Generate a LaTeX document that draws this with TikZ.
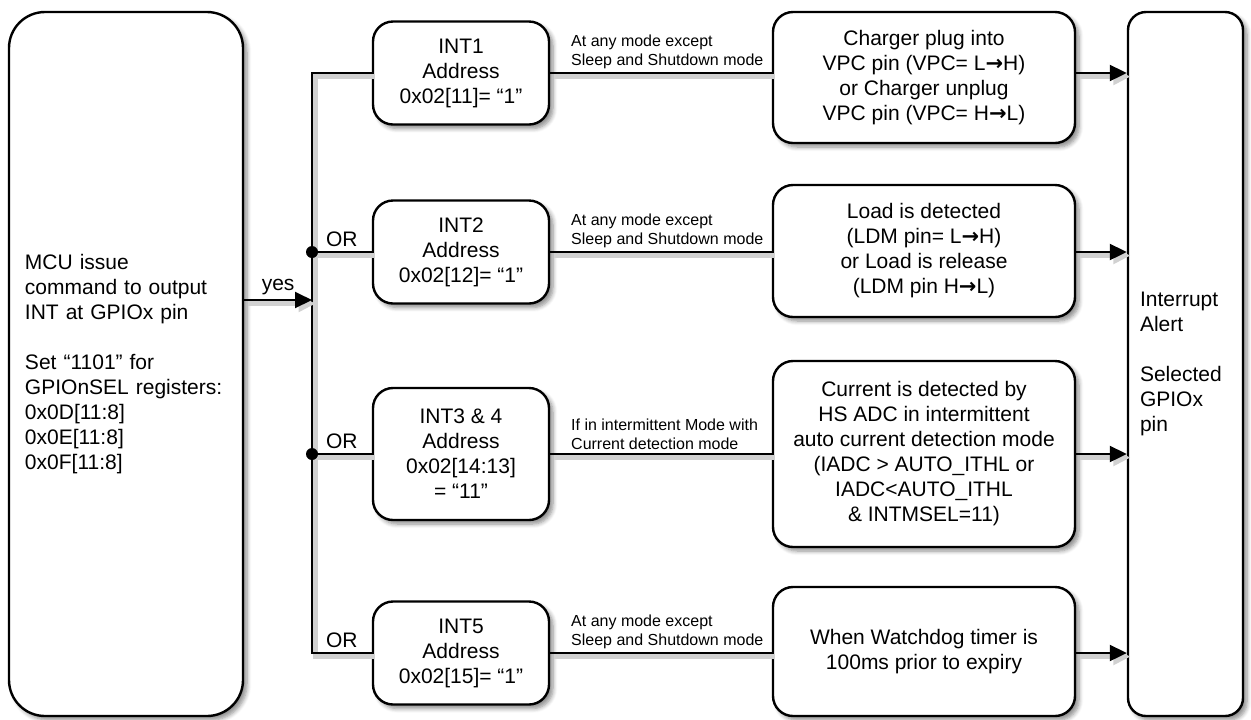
\documentclass[tikz,border=0pt]{standalone}
\usepackage{fontspec}
\setmainfont{Liberation Sans}
\newfontfamily\arrowfont{DejaVu Sans}
\usetikzlibrary{arrows.meta, shadows.blur}

\newcommand{\rarr}{{\arrowfont\bfseries\char"2192}}

\tikzset{
  box/.style={draw, line width=1.2pt, fill=white, rounded corners=10pt,
    align=center, inner sep=0pt, font=\fontsize{10.5}{12.5}\selectfont,
    blur shadow={shadow xshift=2pt, shadow yshift=-2pt, shadow blur steps=6, shadow opacity=45}},
  wire/.style={line width=1pt,
    preaction={draw, black!18, line width=2.5pt, transform canvas={shift={(1.8pt,-1.8pt)}}}},
  lbl/.style={font=\fontsize{8}{9.5}\selectfont, align=left, inner xsep=10pt, inner ysep=1.5pt},
  txt/.style={font=\fontsize{10.5}{12.5}\selectfont, inner sep=2pt},
}

\begin{document}
\begin{tikzpicture}[x=0.5pt, y=-0.5pt, >={Triangle[length=8.5pt, width=8pt]}]
    \useasboundingbox (0,0) rectangle (1251,719);

    % Nodes
    \node[box, rounded corners=18pt, minimum width=117pt, minimum height=352pt,
      text width=101pt, align=left, inner xsep=8pt] (MCU) at (126,364)
      {MCU issue\\command to output\\INT at GPIOx pin\\[12.5pt]Set “1101” for\\GPIOnSEL registers:\\0x0D[11:8]\\0x0E[11:8]\\0x0F[11:8]};

    \node[box, minimum width=88pt, minimum height=51.5pt] (INT1) at (461,73) {INT1\\Address\\0x02[11]= “1”};
    \node[box, minimum width=88pt, minimum height=51.5pt] (INT2) at (461,252) {INT2\\Address\\0x02[12]= “1”};
    \node[box, minimum width=88pt, minimum height=66pt] (INT3) at (461,454) {INT3 \& 4\\Address\\0x02[14:13]\\= “11”};
    \node[box, minimum width=88pt, minimum height=51.5pt] (INT5) at (461,653) {INT5\\Address\\0x02[15]= “1”};

    \node[box, minimum width=151pt, minimum height=65.5pt] (CHG) at (924,77.5)
      {Charger plug into\\VPC pin (VPC= L\rarr H)\\or Charger unplug\\VPC pin (VPC= H\rarr L)};
    \node[box, minimum width=151pt, minimum height=66pt] (LOAD) at (924,251)
      {Load is detected\\(LDM pin= L\rarr H)\\or Load is release\\(LDM pin H\rarr L)};
    \node[box, minimum width=151pt, minimum height=93pt] (CUR) at (924,454)
      {Current is detected by\\HS ADC in intermittent\\auto current detection mode\\(IADC > AUTO\_ITHL or\\IADC<AUTO\_ITHL\\\& INTMSEL=11)};
    \node[box, minimum width=151pt, minimum height=64.5pt] (WDT) at (924,651.5)
      {When Watchdog timer is\\100ms prior to expiry};

    \node[box, rounded corners=9pt, minimum width=57.5pt, minimum height=352pt,
      text width=45.5pt, align=left, inner xsep=6pt] (ALERT) at (1185.5,364)
      {Interrupt\\Alert\\[12.5pt]Selected\\GPIOx\\pin};

    \coordinate (bus) at (312,300);

    % Bus and branches
    \draw[wire] (INT1.west) -| (bus) |- (INT5.west) node[txt, pos=0.75, above] {OR};
    \draw[wire, ->] (bus -| MCU.east) -- (bus) node[txt, midway, above] {yes};
    \draw[wire] (INT2 -| bus) -- (INT2.west) node[txt, midway, above] {OR};
    \draw[wire] (INT3 -| bus) -- (INT3.west) node[txt, midway, above] {OR};
    \fill (INT2 -| bus) circle (3pt);
    \fill (INT3 -| bus) circle (3pt);

    % Conditions
    \draw[wire] (INT1.east) -- (INT1 -| CHG.west) node[lbl, pos=0, above right] {At any mode except\\Sleep and Shutdown mode};
    \draw[wire] (INT2.east) -- (INT2 -| LOAD.west) node[lbl, pos=0, above right] {At any mode except\\Sleep and Shutdown mode};
    \draw[wire] (INT3.east) -- (INT3 -| CUR.west) node[lbl, pos=0, above right] {If in intermittent Mode with\\Current detection mode};
    \draw[wire] (INT5.east) -- (INT5 -| WDT.west) node[lbl, pos=0, above right] {At any mode except\\Sleep and Shutdown mode};

    % Alerts
    \draw[wire, ->] (INT1 -| CHG.east) -- (INT1 -| ALERT.west);
    \draw[wire, ->] (INT2 -| LOAD.east) -- (INT2 -| ALERT.west);
    \draw[wire, ->] (INT3 -| CUR.east) -- (INT3 -| ALERT.west);
    \draw[wire, ->] (INT5 -| WDT.east) -- (INT5 -| ALERT.west);

\end{tikzpicture}
\end{document}
